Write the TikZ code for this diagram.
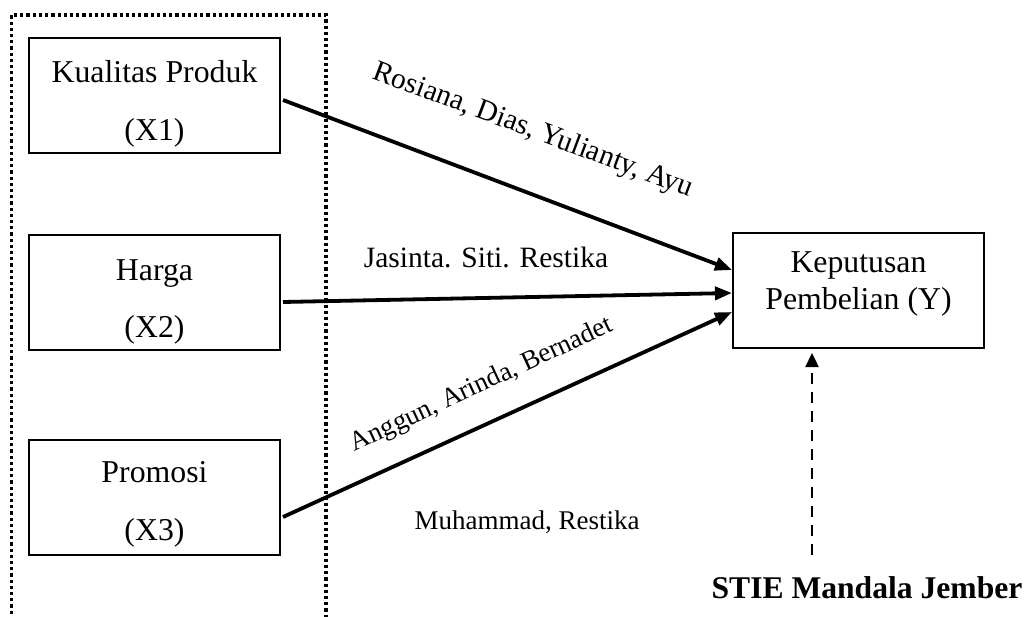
\documentclass[tikz,border=0pt]{standalone}
\usepackage{fontspec}
\setmainfont{Liberation Serif}
\usetikzlibrary{arrows.meta,calc}
\begin{document}
\begin{tikzpicture}[x=1pt,y=-1pt,
  varbox/.style={draw=black,line width=2pt,minimum width=251pt,minimum height=115pt,inner sep=0pt},
  boxtext/.style={font=\fontsize{31.8}{36}\selectfont,inner sep=0pt,anchor=center},
  lbl/.style={font=\fontsize{29.5}{34}\selectfont,inner sep=0pt},
  lblsmall/.style={font=\fontsize{27}{32}\selectfont,inner sep=0pt},
  conn/.style={line width=3.8pt,-{Triangle[length=17pt,width=13pt]}},
  dconn/.style={line width=2.4pt,dash pattern=on 11pt off 8pt,-{Triangle[length=14pt,width=13pt]}},
  frame/.style={line width=3.5pt,dash pattern=on 3.2pt off 3pt}]
\useasboundingbox (0,0) rectangle (1033,616);
% dotted frame
\draw[frame] (11.5,620) -- (11.5,15) -- (326,15) -- (326,620);
% boxes
\node[varbox] (x1) at (154.5,95.5) {};
\node[boxtext] (x1a) at (154.5,72) {Kualitas Produk};
\node[boxtext] (x1b) at (154.5,133) {(X1)};
\node[varbox] (x2) at (154.5,292) {};
\node[boxtext] (x2a) at (154.5,274) {Harga};
\node[boxtext] (x2b) at (154.5,330) {(X2)};
\node[varbox] (x3) at (154.5,497) {};
\node[boxtext] (x3a) at (154.5,472) {Promosi};
\node[boxtext] (x3b) at (154.5,533) {(X3)};
\node[varbox] (y) at (858.5,290.5) {};
\node[boxtext] (ya) at (858.5,265) {Keputusan};
\node[boxtext] (yb) at (858.5,302) {Pembelian (Y)};
% connectors
\draw[conn] ($(x1.east)+(2,4.5)$) -- ($(y.west)+(0,-20.5)$);
\draw[conn] ($(x2.east)+(2,10)$) -- ($(y.west)+(0,2.5)$);
\draw[conn] ($(x3.east)+(2,20)$) -- ($(y.west)+(0,21.5)$);
% labels
\node[lbl,rotate=-20.5] (l1) at (533,131) {Rosiana, Dias, Yulianty, Ayu};
\node[lbl] (l2) at (486,257) {Jasinta. Siti. Restika};
\node[lblsmall,rotate=25] (l3) at (482,385) {Anggun, Arinda, Bernadet};
\node[lblsmall] (l4) at (527,522) {Muhammad, Restika};
% source
\node[font=\bfseries\fontsize{31.6}{36}\selectfont,inner sep=0pt] (src) at (867,588) {STIE Mandala Jember};
\coordinate (srctop) at (812,555);
\draw[dconn] (srctop) -- ($(y.south)+(-46.5,4)$);
\end{tikzpicture}
\end{document}
